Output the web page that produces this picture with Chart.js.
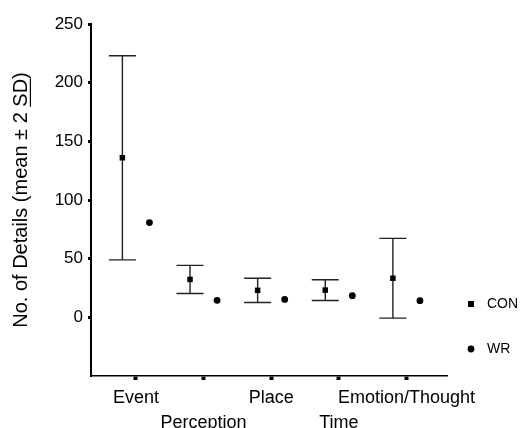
<!DOCTYPE html>
<html>
<head>
<meta charset="utf-8">
<script src="https://cdn.jsdelivr.net/npm/chart.js@4.4.1/dist/chart.umd.min.js"></script>
<style>
  html,body{margin:0;padding:0;background:#fff;}
</style>
</head>
<body>
<canvas id="c" width="528" height="428"></canvas>
<script>
// data
const categories=["Event","Perception","Place","Time","Emotion/Thought"];
const conMean=[136,32.3,23,23.2,33.3];
const conErr=[87,12,10.3,8.8,34];   // 2 SD
const wrMean=[80.8,14.5,15.3,18.5,14.2];
const yTicks=[0,50,100,150,200,250];
const seriesNames=["CON","WR"];

const FONT="'Liberation Sans', Arial, Helvetica, sans-serif";
const TITLE_SIZE=20;
const yTitle="No. of Details (mean \u00b1 2 SD)";

const conPts=conMean.map((v,i)=>({x:i+1-0.2,y:v}));
const wrPts=wrMean.map((v,i)=>({x:i+1+0.2,y:v}));

// error bars for CON, through the scales
const errorBars={
  id:"errorBars",
  beforeDatasetsDraw(chart){
    const {ctx,scales:{x,y}}=chart;
    ctx.save();
    ctx.strokeStyle="#222";
    ctx.lineWidth=1.4;
    conMean.forEach((m,i)=>{
      const cx=i+1-0.2;
      const px=x.getPixelForValue(cx);
      const l=x.getPixelForValue(cx-0.2), r=x.getPixelForValue(cx+0.2);
      const top=y.getPixelForValue(m+conErr[i]);
      const bot=y.getPixelForValue(m-conErr[i]);
      ctx.beginPath();
      ctx.moveTo(px,top);ctx.lineTo(px,bot);
      ctx.moveTo(l,top);ctx.lineTo(r,top);
      ctx.moveTo(l,bot);ctx.lineTo(r,bot);
      ctx.stroke();
    });
    ctx.restore();
  }
};

// underline "SD" in the y title
const underlineSD={
  id:"underlineSD",
  afterDraw(chart){
    const s=chart.scales.y;
    const {ctx}=chart;
    const tx=s.left+TITLE_SIZE*1.2/2+9;
    const ty=(s.top+s.bottom)/2;
    ctx.save();
    ctx.translate(tx,ty);
    ctx.rotate(-Math.PI/2);
    ctx.font=TITLE_SIZE+"px "+FONT;
    const w=ctx.measureText(yTitle).width;
    const pre=ctx.measureText("No. of Details (mean \u00b1 2 ").width;
    const sd=ctx.measureText("SD").width;
    const x0=-w/2+pre, uy=TITLE_SIZE*0.47;
    ctx.strokeStyle="#000";ctx.lineWidth=1.2;
    ctx.beginPath();ctx.moveTo(x0,uy);ctx.lineTo(x0+sd,uy);ctx.stroke();
    ctx.restore();
  }
};

// legend on the right, lower part
const sideLegend={
  id:"sideLegend",
  afterDraw(chart){
    const {ctx}=chart;
    const rows=[304,349];
    ctx.save();
    ctx.font="14px "+FONT;
    ctx.textBaseline="middle";
    ctx.fillStyle="#000";
    chart.data.datasets.forEach((ds,i)=>{
      const y=rows[i], mx=471;
      if(ds.pointStyle==="rect") ctx.fillRect(mx-3,y-3,6,6);
      else {ctx.beginPath();ctx.arc(mx,y,3.4,0,Math.PI*2);ctx.fill();}
      ctx.fillText(ds.label,487,y);
    });
    ctx.restore();
  }
};

new Chart(document.getElementById("c"),{
  type:"scatter",
  data:{
    datasets:[
      {label:seriesNames[0],data:conPts,pointStyle:"rect",pointRadius:3.9,
       backgroundColor:"#000",borderColor:"#000",borderWidth:0},
      {label:seriesNames[1],data:wrPts,pointStyle:"circle",pointRadius:3.4,
       backgroundColor:"#000",borderColor:"#000",borderWidth:0}
    ]
  },
  options:{
    responsive:false,
    animation:false,
    layout:{padding:{top:24,right:81,bottom:0,left:0}},
    plugins:{legend:{display:false},tooltip:{enabled:false}},
    scales:{
      x:{
        type:"linear",min:0.336,max:5.6,
        afterBuildTicks:(s)=>{s.ticks=categories.map((_,i)=>({value:i+1}));},
        afterFit:(s)=>{s.height=52;},
        border:{color:"#000",width:1.6},
        grid:{drawOnChartArea:false,drawTicks:true,tickLength:4,tickWidth:4,tickColor:"#000"},
        ticks:{
          autoSkip:false,maxRotation:0,padding:5,color:"#000",
          font:{family:FONT,size:18,lineHeight:1.4},
          callback:(v)=>{
            const i=Math.round(v)-1;
            return i%2 ? ["",categories[i]] : categories[i];
          }
        }
      },
      y:{
        min:-50,max:250,
        afterBuildTicks:(s)=>{s.ticks=yTicks.map(v=>({value:v}));},
        afterFit:(s)=>{s.width=91;},
        border:{color:"#000",width:2},
        grid:{drawOnChartArea:false,drawTicks:true,tickLength:3,tickWidth:3,tickColor:"#000"},
        ticks:{padding:5,color:"#000",font:{family:FONT,size:17}},
        title:{display:true,text:yTitle,color:"#000",
          font:{family:FONT,size:TITLE_SIZE,lineHeight:1.2},padding:{top:9,bottom:0}}
      }
    }
  },
  plugins:[errorBars,underlineSD,sideLegend]
});
</script>
</body>
</html>
